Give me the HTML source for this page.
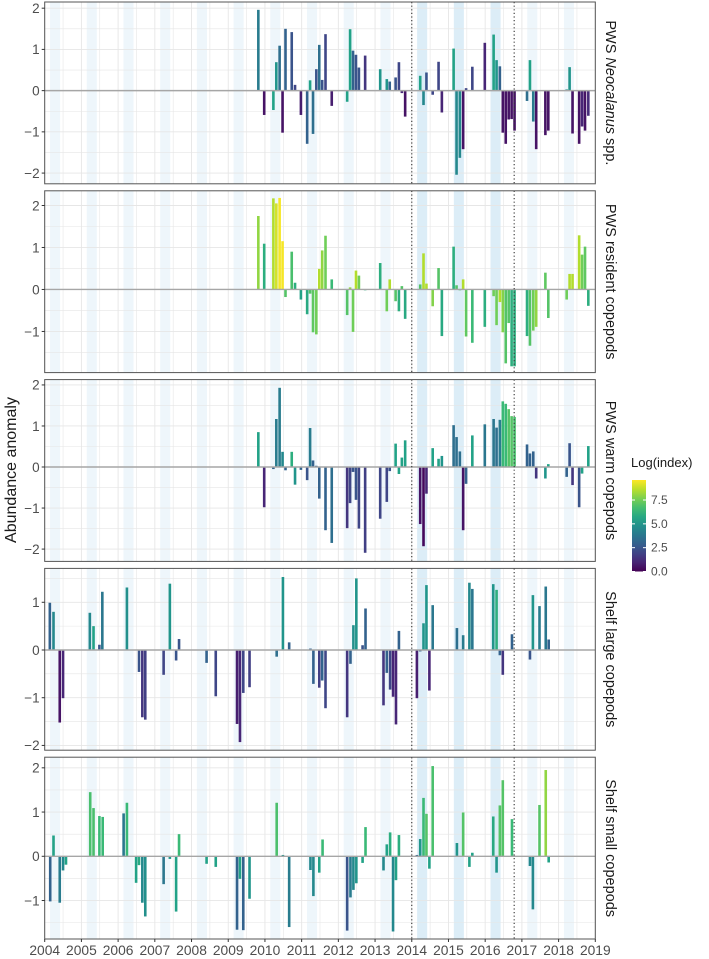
<!DOCTYPE html>
<html><head><meta charset="utf-8">
<style>
html,body{margin:0;padding:0;background:#fff;}
svg{display:block;font-family:"Liberation Sans",Arial,sans-serif;}
</style></head>
<body>
<svg id="chart" width="709" height="959" viewBox="0 0 709 959"></svg>
<script>
// ---------- data ----------
const panelTitles = ["PWS Neocalanus spp.","PWS resident copepods","PWS warm copepods","Shelf large copepods","Shelf small copepods"];
const panelYMin = [-2.26,-1.98,-2.3,-2.1,-1.87];
const panelYMax = [2.15,2.35,2.13,1.71,2.24];
const panelTicks = [[-2,-1,0,1,2],[-1,0,1,2],[-2,-1,0,1,2],[-2,-1,0,1],[-1,0,1,2]];
const xTickYears = [2004,2005,2006,2007,2008,2009,2010,2011,2012,2013,2014,2015,2016,2017,2018,2019];
const legendTicks = [0,2.5,5,7.5];
const eventLines = [2014.0,2016.79];

const p1Dates = [2009.82,2009.98,2010.23,2010.31,2010.40,2010.48,2010.56,2010.73,2010.82,2010.98,2011.15,2011.23,2011.31,2011.40,2011.48,2011.56,2011.65,2011.82,2012.24,2012.32,2012.40,2012.48,2012.56,2012.73,2013.14,2013.32,2013.40,2013.56,2013.65,2013.73,2013.82,2014.23,2014.32,2014.40,2014.57,2014.73,2014.82,2015.14,2015.22,2015.31,2015.40,2015.48,2015.65,2015.99,2016.23,2016.31,2016.40,2016.48,2016.56,2016.64,2016.72,2016.80,2017.14,2017.22,2017.31,2017.39,2017.64,2017.72,2018.22,2018.30,2018.38,2018.56,2018.64,2018.72,2018.81];
const p1Values = [1.96,-0.59,-0.47,0.69,1.09,-1.02,1.5,1.42,0.14,-0.59,-1.29,0.25,-1.05,0.52,1.11,0.26,1.37,-0.37,-0.27,1.49,0.97,0.87,0.56,0.85,0.52,0.28,0.22,0.32,0.69,-0.06,-0.63,0.36,-0.35,0.44,-0.1,0.7,-0.53,1.02,-2.04,-1.63,-1.42,0.06,0.58,1.16,1.36,0.74,0.59,-1.02,-1.29,-0.7,-0.69,-0.97,-0.25,0.74,-0.75,-1.42,-1.08,-0.97,0.03,0.57,-1.04,-1.29,-0.87,-0.97,-0.61];
const p1Colors = [4,0.5,5.5,5,3.5,0.5,3,2.5,2,0.8,3,5.5,3.5,2.5,3.5,2.5,2,0.8,5.5,5.5,3,2.5,2.5,1.5,5,5,3,2.5,2,1,0.5,5.5,4.5,2.5,2,2,1,5.5,4.5,4.5,0.5,2,2,1,5.5,5,3,0.5,0.5,0.5,0.5,0.5,3.5,5.5,4,0.5,0.5,0.5,5,5,0.5,0.5,1,0.5,1.2];

const p2Dates = [2009.82,2009.98,2010.23,2010.31,2010.40,2010.48,2010.56,2010.73,2010.82,2010.98,2011.15,2011.23,2011.31,2011.40,2011.48,2011.56,2011.65,2011.82,2012.24,2012.32,2012.40,2012.48,2012.56,2012.73,2013.14,2013.32,2013.40,2013.56,2013.65,2013.73,2013.82,2014.23,2014.32,2014.40,2014.57,2014.73,2014.82,2015.14,2015.22,2015.31,2015.40,2015.48,2015.65,2015.99,2016.23,2016.31,2016.40,2016.48,2016.56,2016.64,2016.72,2016.80,2017.14,2017.22,2017.31,2017.39,2017.64,2017.72,2018.22,2018.30,2018.38,2018.56,2018.64,2018.72,2018.81];
const p2Values = [1.75,1.09,2.17,2.05,2.18,1.15,-0.18,0.9,0.16,-0.24,-0.59,-0.1,-1.02,-1.07,0.49,0.93,1.28,0.24,-0.61,0.05,-1.01,0.45,0.33,-0.02,0.63,-0.52,0.24,-0.28,-0.52,0.08,-0.7,0.12,0.86,0.14,-0.4,0.51,-1.11,1.02,0.1,-0.02,0.24,-1.12,-1.27,-0.89,-0.16,-0.85,-0.3,-1.02,-1.76,-0.8,-1.83,-1.83,-1.11,-1.34,-0.98,-0.89,0.4,-0.68,-0.24,0.37,0.37,1.29,0.83,1.02,-0.39];
const p2Colors = [8,6,8.5,9,9.5,9.5,7,6.8,6,5.5,5.8,7,7.2,7.5,8.5,8,7.5,6.5,7,8,7.5,8.5,7.5,6,6,7.5,8.5,7,6,7,5.8,7,8.5,8.5,7.8,7,5.8,6,7,7,8.5,7.2,6.5,6,7.5,7.5,8.5,7.8,7,7,6,6,6,7,7.5,8,7.2,7,7.5,8.5,8.5,8.5,7.5,7.2,6];

const p3Dates = [2009.82,2009.98,2010.23,2010.31,2010.40,2010.48,2010.56,2010.73,2010.82,2010.98,2011.15,2011.23,2011.31,2011.40,2011.48,2011.65,2011.82,2012.24,2012.32,2012.40,2012.48,2012.56,2012.73,2013.14,2013.32,2013.40,2013.56,2013.65,2013.73,2013.82,2014.23,2014.32,2014.40,2014.57,2014.73,2014.82,2015.14,2015.22,2015.31,2015.40,2015.48,2015.65,2015.99,2016.23,2016.31,2016.40,2016.48,2016.56,2016.64,2016.72,2016.80,2017.14,2017.22,2017.31,2017.39,2017.64,2017.72,2018.22,2018.30,2018.38,2018.56,2018.64,2018.81];
const p3Values = [0.85,-0.98,-0.05,1.17,1.93,0.37,-0.08,0.37,-0.43,-0.07,-0.32,0.95,0.16,0.03,-0.77,-1.54,-1.85,-1.49,-0.88,-0.12,-0.8,-1.5,-2.09,-1.26,-0.85,-0.1,0.57,-0.17,0.23,0.65,-1.39,-1.93,-0.65,0.46,0.2,0.27,1.02,0.73,0.38,-1.54,-0.41,0.77,1.04,1.17,0.96,1.15,1.6,1.54,1.41,1.24,1.22,0.55,0.33,0.38,-0.28,-0.28,0.07,-0.24,0.58,-0.44,-0.98,-0.16,0.51];
const p3Colors = [5.5,1,3,4,4,4.5,3,6,5,3,2.5,4,3,3,3,3,3.5,1.5,2,2.5,2.5,2,1.8,2,2,2.5,5.5,5.5,5.5,5.5,0.5,0.2,1,5.5,5.5,5,3.5,3.5,3.5,0.5,3,5.5,3.8,3.8,3.5,4,6.5,6.5,7,7,6.8,3,3,3,1.5,5,5.5,3,2.5,1.5,2.5,5.5,5.5];

const p4Dates = [2004.14,2004.24,2004.41,2004.50,2005.23,2005.33,2005.49,2005.57,2006.24,2006.57,2006.66,2006.74,2007.24,2007.41,2007.58,2007.66,2008.41,2008.66,2009.24,2009.32,2009.41,2009.58,2010.32,2010.49,2010.66,2011.24,2011.32,2011.48,2011.56,2011.65,2012.24,2012.33,2012.41,2012.49,2012.66,2012.74,2013.23,2013.32,2013.41,2013.49,2013.57,2013.65,2014.14,2014.23,2014.32,2014.40,2014.48,2014.57,2015.23,2015.40,2015.57,2015.65,2016.22,2016.31,2016.40,2016.48,2016.73,2017.22,2017.30,2017.48,2017.65,2017.73];
const p4Values = [0.99,0.8,-1.52,-1.01,0.78,0.5,0.11,1.22,1.31,-0.46,-1.41,-1.46,-0.52,1.39,-0.22,0.23,-0.27,-0.97,-1.55,-1.93,-0.9,-0.78,-0.14,1.53,0.16,0.03,-0.71,-0.79,-0.64,-1.22,-1.41,-0.29,0.52,1.5,0.1,0.87,-1.16,-0.48,-0.83,-0.98,-1.56,0.4,-1.01,-0.03,0.56,1.36,-0.85,0.94,0.46,0.31,1.41,1.28,1.38,1.26,-0.11,-0.52,0.33,-0.2,1.15,0.92,1.33,0.22];
const p4Colors = [3,4.5,0.5,1,4.5,5.5,2.5,3.8,4.8,2.5,1.5,1.8,2,5,2.5,2.5,3,2,0.8,1,2,1.8,3.5,5,3,3,3,1.8,3,2,1.5,3,4.8,5,2.5,3,1.5,3,2,1,1,3,0.8,3,5,5,1,3.8,3.5,4,4.5,3.8,5,6,3,1.5,3,2.5,5,4,3.8,3];

const p5Dates = [2004.15,2004.24,2004.41,2004.50,2004.58,2005.24,2005.33,2005.49,2005.58,2006.15,2006.24,2006.49,2006.57,2006.66,2006.74,2007.24,2007.41,2007.58,2007.66,2008.41,2008.66,2009.24,2009.32,2009.41,2009.58,2010.32,2010.49,2010.66,2011.24,2011.32,2011.48,2011.57,2012.24,2012.33,2012.41,2012.49,2012.66,2012.74,2013.23,2013.32,2013.41,2013.49,2013.57,2013.65,2014.14,2014.23,2014.32,2014.40,2014.48,2014.57,2015.23,2015.40,2015.57,2015.65,2016.22,2016.31,2016.40,2016.48,2016.73,2017.22,2017.30,2017.48,2017.65,2017.73];
const p5Values = [-1.02,0.47,-1.05,-0.32,-0.19,1.45,1.09,0.91,0.89,0.97,1.21,-0.6,-0.2,-1.05,-1.36,-0.63,-0.06,-1.25,0.5,-0.17,-0.24,-1.66,-0.51,-1.67,-0.96,1.21,0.03,-1.6,-0.31,-0.9,-0.37,0.38,-1.68,-0.93,-0.76,-0.61,-0.15,0.66,-0.32,0.27,0.54,-1.7,-0.54,0.48,0.03,0.39,1.32,0.96,-0.28,2.04,0.3,0.99,-0.24,0.08,0.9,-0.37,1.15,1.72,0.84,-0.22,-1.2,1.16,1.95,-0.14];
const p5Colors = [3,5.5,4,4.5,5.5,6.8,6.8,6.5,6.5,3.8,6.5,5.5,5.8,4.5,4.8,3.8,5,5.5,6.5,5.5,5.5,3,5.5,3,5,6.8,5,4,4.5,4.5,5.5,6.5,2.5,4,4.5,5,5.5,6.5,4.5,5.5,6,4.5,5.5,6,3,5,6.5,7,5.5,6.8,5,7,5.5,5.5,5.8,5,7,7,6.5,4.5,4.5,7,8,5.5];

const allDates = [p1Dates,p2Dates,p3Dates,p4Dates,p5Dates];
const allValues = [p1Values,p2Values,p3Values,p4Values,p5Values];
const allColors = [p1Colors,p2Colors,p3Colors,p4Colors,p5Colors];

// ---------- helpers ----------
const NS="http://www.w3.org/2000/svg";
const svg=document.getElementById('chart');
function mk(tag,attrs,parent){const e=document.createElementNS(NS,tag);for(const k in attrs)e.setAttribute(k,attrs[k]);(parent||svg).appendChild(e);return e;}
const X0=44.7,X1=595.3,PX_PER_YEAR=(X1-X0)/15;
function xScale(y){return X0+(y-2004)*PX_PER_YEAR;}
const PANEL_TOP0=2,PANEL_H=181.8,PANEL_STEP=188.8;
function yScaleFor(i){const top=PANEL_TOP0+i*PANEL_STEP;const lo=panelYMin[i],hi=panelYMax[i];return v=>top+(hi-v)/(hi-lo)*PANEL_H;}
const VIR=[[68,1,84],[72,40,120],[62,74,137],[49,104,142],[38,130,142],[31,158,137],[53,183,121],[109,205,89],[180,222,44],[253,231,37]];
const CMAX=9.6;
function viridis(v){let t=Math.max(0,Math.min(1,v/CMAX))*(VIR.length-1);const i=Math.min(VIR.length-2,Math.floor(t));const f=t-i;const a=VIR[i],b=VIR[i+1];return 'rgb('+a.map((c,k)=>Math.round(c+(b[k]-c)*f)).join(',')+')';}

// ---------- panels ----------
for(let p=0;p<5;p++){
  const top=PANEL_TOP0+p*PANEL_STEP, bot=top+PANEL_H;
  const ys=yScaleFor(p);
  const g=mk('g',{});
  
  
  for(let yr=2004;yr<=2018;yr++){
    const strong=(yr>=2014&&yr<=2016);
    const r=mk('rect',{x:xScale(yr+0.146),y:top,width:(0.274*PX_PER_YEAR),height:PANEL_H,fill:strong?'#dcedf7':'#eef6fb'},g);
    
    
  }
  for(let yr=2004;yr<=2019;yr+=0.5){
    const gx=xScale(yr);
    mk('line',{x1:gx,x2:gx,y1:top,y2:bot,stroke:'#e6e6e6','stroke-width':yr%1===0?0.9:0.6},g);
  }
  const lo=panelYMin[p],hi=panelYMax[p];
  for(let v=Math.ceil(lo*2)/2;v<=hi;v+=0.5){
    if(Math.abs(v)<1e-6)continue;
    mk('line',{x1:X0,x2:X1,y1:ys(v),y2:ys(v),stroke:'#e6e6e6','stroke-width':Number.isInteger(v)?0.9:0.6},g);
  }
  const d=allDates[p],vals=allValues[p],cols=allColors[p];
  for(let k=0;k<d.length;k++){
    const y0=ys(0),y1=ys(vals[k]);
    const b=mk('rect',{x:xScale(d[k])-1.3,y:Math.min(y0,y1),width:2.6,height:Math.max(0.6,Math.abs(y1-y0)),fill:viridis(cols[k])},g);
    
    
  }
  mk('line',{x1:X0,x2:X1,y1:ys(0),y2:ys(0),stroke:'#a6a6a6','stroke-width':1.4},g);
  eventLines.forEach(ev=>{
    const l=mk('line',{x1:xScale(ev),x2:xScale(ev),y1:top,y2:bot,stroke:'#333','stroke-width':1.1,'stroke-dasharray':'1.2,2.4'},g);
    
    
  });
  mk('rect',{x:X0,y:top,width:X1-X0,height:PANEL_H,fill:'none',stroke:'#555','stroke-width':1},g);
  panelTicks[p].forEach(v=>{
    mk('line',{x1:X0-3,x2:X0,y1:ys(v),y2:ys(v),stroke:'#333','stroke-width':1},g);
    const t=mk('text',{x:X0-5,y:ys(v)+4.8,'text-anchor':'end','font-size':13.5,fill:'#4d4d4d'},g);
    t.textContent=v<0?'\u2212'+Math.abs(v):String(v);
    
    
  });
  const cy=top+PANEL_H/2;
  const st=mk('text',{x:0,y:0,transform:'translate(606,'+cy+') rotate(90)','text-anchor':'middle','font-size':14.5,fill:'#1a1a1a'},g);
  
  
  if(p===0){
    const a=mk('tspan',{},st);a.textContent='PWS ';
    const b2=mk('tspan',{'font-style':'italic'},st);b2.textContent='Neocalanus';
    const c=mk('tspan',{},st);c.textContent=' spp.';
  } else st.textContent=panelTitles[p];
}
const axY=PANEL_TOP0+4*PANEL_STEP+PANEL_H;
xTickYears.forEach(yr=>{
  mk('line',{x1:xScale(yr),x2:xScale(yr),y1:axY,y2:axY+3,stroke:'#333','stroke-width':1});
  const t=mk('text',{x:xScale(yr),y:axY+16,'text-anchor':'middle','font-size':13.8,fill:'#4d4d4d'});
  t.textContent=yr;
  
  
});
const yt=mk('text',{x:0,y:0,transform:'translate(16,470) rotate(-90)','text-anchor':'middle','font-size':16,fill:'#1a1a1a'});
yt.textContent='Abundance anomaly';



const lg=mk('g',{});


const lt=mk('text',{x:631,y:467,'font-size':13,fill:'#1a1a1a'},lg);
lt.textContent='Log(index)';


const defs=mk('defs',{},lg);
const grad=mk('linearGradient',{id:'vg',x1:0,y1:1,x2:0,y2:0},defs);
for(let i=0;i<=10;i++){mk('stop',{offset:i/10,'stop-color':viridis(CMAX*i/10)},grad);}
const LB_TOP=480,LB_BOT=571.5;
function legY(v){return LB_BOT-(v/CMAX)*(LB_BOT-LB_TOP);}
mk('rect',{x:632,y:LB_TOP,width:14,height:LB_BOT-LB_TOP,fill:'url(#vg)'},lg);
legendTicks.forEach(v=>{
  mk('line',{x1:632,x2:635,y1:legY(v),y2:legY(v),stroke:'#fff','stroke-width':1},lg);
  mk('line',{x1:643,x2:646,y1:legY(v),y2:legY(v),stroke:'#fff','stroke-width':1},lg);
  const t=mk('text',{x:651,y:legY(v)+4,'font-size':12,fill:'#4d4d4d'},lg);
  t.textContent=v.toFixed(1);
  
  
});
</script>
</body></html>
